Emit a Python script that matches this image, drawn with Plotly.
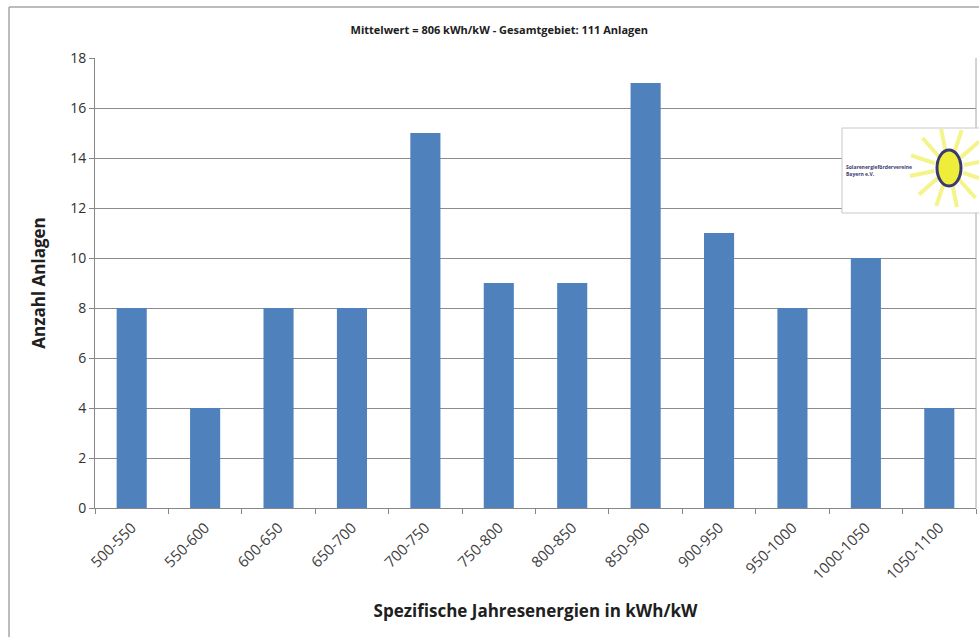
import math
import plotly.graph_objects as go

categories = ["500-550", "550-600", "600-650", "650-700", "700-750", "750-800",
              "800-850", "850-900", "900-950", "950-1000", "1000-1050", "1050-1100"]
anzahl = [8, 4, 8, 8, 15, 9, 9, 17, 11, 8, 10, 4]
y_ticks = [0, 2, 4, 6, 8, 10, 12, 14, 16, 18]

title_text = "Mittelwert = 806 kWh/kW - Gesamtgebiet: 111 Anlagen"
x_title = "Spezifische Jahresenergien in kWh/kW"
y_title = "Anzahl Anlagen"

font_family = "Open Sans, Liberation Sans, sans-serif"

L, R, T, B = 95, 3, 58, 129
W, H = 979, 637
PW, PH = W - L - R, H - T - B


def px(x):
    return (x - L) / PW


def py(y):
    return (H - B - y) / PH


fig = go.Figure()
fig.add_trace(go.Bar(
    x=categories, y=anzahl,
    marker=dict(color="#4F81BD", line=dict(width=0)),
    hoverinfo="x+y",
))

shapes = [
    # outer chart frame (left and top edges visible)
    dict(type="line", xref="paper", yref="paper", x0=px(9), x1=px(9), y0=py(700), y1=py(7),
         line=dict(color="#A6A6A6", width=1.5)),
    dict(type="line", xref="paper", yref="paper", x0=px(9), x1=px(990), y0=py(7), y1=py(7),
         line=dict(color="#A6A6A6", width=1.5)),
    # plot area right edge
    dict(type="line", xref="paper", yref="paper", x0=1, x1=1, y0=0, y1=1,
         line=dict(color="#A6A6A6", width=1)),
    # logo box
    dict(type="rect", xref="paper", yref="paper", x0=px(842), x1=px(985),
         y0=py(213), y1=py(128),
         line=dict(color="#C8C8C8", width=1), fillcolor="white", layer="above"),
]
# sun rays
cx, cy = px(949), py(168)
for k in range(12):
    a = 2 * math.pi * k / 12 + 0.2
    r0, r1 = 15, 40
    shapes.append(dict(type="line", xref="paper", yref="paper",
                       x0=cx + r0 / PW * math.cos(a), y0=cy + r0 / PH * math.sin(a),
                       x1=cx + r1 / PW * math.cos(a), y1=cy + r1 / PH * math.sin(a),
                       line=dict(color="#F4F48A", width=4), layer="above"))
shapes.append(dict(type="circle", xref="paper", yref="paper",
                   x0=cx - 12 / PW, x1=cx + 12 / PW, y0=cy - 18 / PH, y1=cy + 18 / PH,
                   fillcolor="#EEEE3A", line=dict(color="#3A3A70", width=3), layer="above"))

fig.update_layout(
    width=W, height=H,
    margin=dict(l=L, r=R, t=T, b=B),
    paper_bgcolor="white", plot_bgcolor="white",
    bargap=0.59,
    showlegend=False,
    font=dict(family=font_family, color="#404040"),
    title=dict(text="<b>" + title_text + "</b>", x=0.51, xanchor="center",
               y=1 - 30 / H, yanchor="middle", font=dict(size=11, color="#202020")),
    xaxis=dict(
        title=dict(text="<b>" + x_title + "</b>", font=dict(size=17, color="#202020"), standoff=22),
        tickangle=-45, tickfont=dict(size=15, color="#404040"),
        ticklabelstandoff=4,
        showline=True, linecolor="#868686", linewidth=1,
        ticks="outside", ticklen=5, tickcolor="#868686", tickson="boundaries",
        showgrid=False, automargin=False,
    ),
    yaxis=dict(
        title=dict(text="<b>" + y_title + "</b>", font=dict(size=17, color="#202020"), standoff=20),
        range=[0, 18], tickvals=y_ticks, tickfont=dict(size=14, color="#303030"),
        showline=True, linecolor="#868686", linewidth=1,
        ticks="outside", ticklen=5, tickcolor="#868686",
        showgrid=True, gridcolor="#8C8C8C", gridwidth=1, zeroline=False,
        automargin=False,
    ),
    shapes=shapes,
    annotations=[
        dict(xref="paper", yref="paper", x=px(844), y=py(171),
             xanchor="left", yanchor="middle", align="left", showarrow=False,
             text="<b>Solarenergiefördervereine</b><br><b>Bayern e.V.</b>",
             font=dict(size=5, color="#3A3A70", family=font_family)),
    ],
)

fig.write_html("out.html", config={"displayModeBar": False},
               post_script="document.body.style.margin='0';")
